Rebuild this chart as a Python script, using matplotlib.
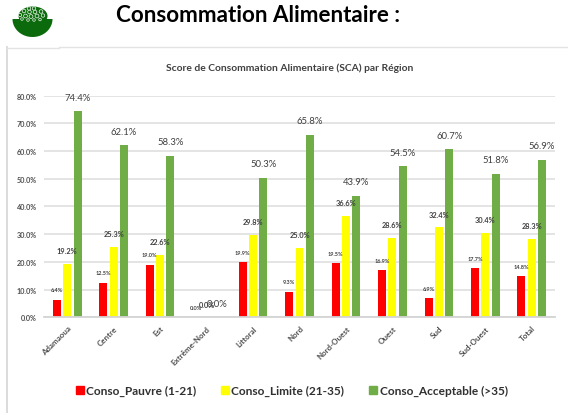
import matplotlib
matplotlib.use("Agg")
import matplotlib.pyplot as plt
from matplotlib.patches import Circle, Rectangle, Ellipse
from matplotlib.lines import Line2D
import numpy as np

W, H = 568, 414
plt.rcParams['font.family'] = ['Lato', 'DejaVu Sans']

categories = ["Adamaoua", "Centre", "Est", "Extrême-Nord", "Littoral", "Nord",
              "Nord-Ouest", "Ouest", "Sud", "Sud-Ouest", "Total"]
pauvre = [6.4, 12.5, 19.0, 0.0, 19.9, 9.3, 19.5, 16.9, 6.9, 17.7, 14.8]
limite = [19.2, 25.3, 22.6, 0.0, 29.8, 25.0, 36.6, 28.6, 32.4, 30.4, 28.3]
acceptable = [74.4, 62.1, 58.3, 0.0, 50.3, 65.8, 43.9, 54.5, 60.7, 51.8, 56.9]
series_names = ["Conso_Pauvre (1-21)", "Conso_Limite (21-35)", "Conso_Acceptable (>35)"]
y_ticks = [0, 10, 20, 30, 40, 50, 60, 70, 80]
title_main = "Consommation Alimentaire :"
title_chart = "Score de Consommation Alimentaire (SCA) par Région"

fig = plt.figure(figsize=(W / 100, H / 100), dpi=100, facecolor="white")

# page frame
fig.add_artist(Line2D([6.5 / W, 6.5 / W], [0, 1 - 48 / H], color="#d9d9d9", lw=1.3))
fig.add_artist(Line2D([6.5 / W, 59 / W], [1 - 48.5 / H, 1 - 48.5 / H], color="#e3e3e3", lw=1))
fig.add_artist(Line2D([59 / W, 1], [1 - 47.5 / H, 1 - 47.5 / H], color="#e3e3e3", lw=1))

fig.text(257.5 / W, 1 - 16 / H, title_main, ha="center", va="center",
         fontsize=16.1, fontweight="bold", color="black")
fig.text(289.5 / W, 1 - 68 / H, title_chart, ha="center", va="center",
         fontsize=7.4, fontweight="bold", color="#404040")

# bowl icon
ic = fig.add_axes([0, 1 - 45 / H, 65 / W, 45 / H])
ic.set_xlim(0, 65)
ic.set_ylim(45, 0)
ic.axis("off")
GREEN_D = "#0b6a0b"
th = np.linspace(0, np.pi, 60)
ic.fill(32.5 + 20 * np.cos(th), 20 + 18 * np.sin(th), color=GREEN_D, lw=0)
ic.add_patch(Ellipse((33, 17), 29, 19, color=GREEN_D, lw=0))
for (cx, cy, r) in [(29, 9.5, 1.7), (34, 9.5, 1.7), (24, 12, 1.8), (29.5, 13, 1.8), (35, 13, 1.8),
                    (41, 12.5, 1.8), (20, 16, 1.7), (25.5, 17, 1.9), (31, 17.5, 1.9), (37, 17, 1.9),
                    (43, 16.5, 1.7), (22, 20, 1.3), (34, 21, 1.3), (28, 21, 1.3), (40, 20.5, 1.3)]:
    ic.add_patch(Circle((cx, cy), r, facecolor=GREEN_D, edgecolor="#dfeedf", lw=0.55))

# chart axes
left, right, top, bottom = 44, 555, 96.5, 318.3
ax = fig.add_axes([left / W, 1 - bottom / H, (right - left) / W, (bottom - top) / H])
ax.set_xlim(-0.5, len(categories) - 0.5)
ax.set_ylim(0, 80)
ax.patch.set_alpha(0)
for s in ["top", "right", "left"]:
    ax.spines[s].set_visible(False)
ax.spines["bottom"].set_color("#d4d4d4")
ax.spines["bottom"].set_linewidth(1.3)
ax.set_yticks(y_ticks)
ax.set_yticklabels([f"{v:.1f}%" for v in y_ticks], fontsize=5.2, color="#505050", fontweight="bold")
ax.tick_params(axis="both", length=0)
ax.tick_params(axis="y", pad=5)
ax.grid(axis="y", color="#dcdcdc", lw=1.1)
ax.set_axisbelow(True)

x = np.arange(len(categories))
step, width = 0.222, 0.172
colors = ["#ff0000", "#ffff00", "#70ad47"]
data = [pauvre, limite, acceptable]
for i, (vals, c, name) in enumerate(zip(data, colors, series_names)):
    pos = x + (i - 1) * step
    ax.bar(pos, vals, width=width, color=c, label=name)
    fs, off, wt = [(4.0, 7, "bold"), (5.3, 9.5, "bold"), (6.8, 10, "normal")][i]
    for p, v in zip(pos, vals):
        ax.annotate(f"{v:.1f}%", (p, v), xytext=(0, off), textcoords="offset points",
                    ha="center", va="center", fontsize=fs, color="#404040", fontweight=wt)

ax.set_xticks(x)
ax.set_xticklabels(categories, rotation=45, ha="right", rotation_mode="anchor",
                   fontsize=5.8, color="#505050", fontweight="bold")
ax.tick_params(axis="x", pad=5)

# legend
for xs, c, name, tx in zip([76, 221, 369], colors, series_names, [86, 231, 380]):
    fig.add_artist(Rectangle((xs / W, 1 - 395 / H), 7.5 / W, 8 / H, color=c,
                             transform=fig.transFigure))
    fig.text(tx / W, 1 - 391 / H, name, ha="left", va="center", fontsize=8.6,
             color="#303030", fontweight="bold")

fig.savefig("out.png", dpi=100)
